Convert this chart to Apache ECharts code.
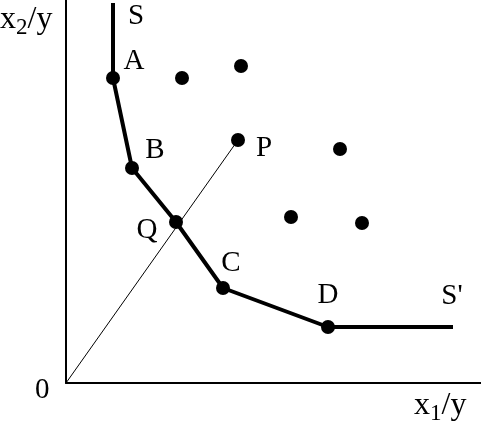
<!DOCTYPE html>
<html>
<head>
<meta charset="utf-8">
<script src="https://cdn.jsdelivr.net/npm/echarts@6/dist/echarts.min.js"></script>
<style>
  html, body { margin: 0; padding: 0; background: #fff; }
  #chart { width: 481px; height: 433px; }
</style>
</head>
<body>
<div id="chart"></div>
<script>
// frontier S - A - B - Q - C - D - S'
var frontierNames = ['S', 'A', 'B', 'Q', 'C', 'D', "S'"];
var frontierX = [47, 47, 66, 110, 157, 262, 387];
var frontierY = [380, 305, 215, 161, 95, 56, 56];
// inefficient unit P and ray from origin
var rayX = [0, 172];
var rayY = [0, 243];
// other observed units
var otherX = [116, 175, 274, 225, 296];
var otherY = [305, 317, 234, 166, 160];

var font = 'Liberation Serif';
// label offsets [dx, dy] for each named point
var labelOffset = {
  'S': [23, 13], 'A': [21, -17], 'B': [23, -18], 'Q': [-29, 8],
  'C': [8, -25], 'D': [0, -32], "S'": [-1, -31], 'P': [26, 8]
};

var frontier = frontierX.map(function (x, i) { return [x, frontierY[i]]; });
var ray = rayX.map(function (x, i) { return [x, rayY[i]]; });
var others = otherX.map(function (x, i) { return [x, otherY[i]]; });

function dotted(names, pts, showDot) {
  return pts.map(function (p, i) {
    var n = names[i];
    var o = labelOffset[n] || [0, 0];
    return {
      value: p,
      symbolSize: showDot[i] ? 14 : 0,
      label: { show: true, formatter: n, offset: o, position: 'inside',
        fontFamily: font, fontSize: 29, color: '#000' }
    };
  });
}

var myChart = echarts.init(document.getElementById('chart'));
var option = {
  animation: false,
  grid: { left: 66, top: 0, right: 0, bottom: 50 },
  xAxis: {
    type: 'value', min: 0, max: 415,
    axisLine: { show: true, lineStyle: { color: '#000', width: 2 } },
    axisTick: { show: false }, axisLabel: { show: false }, splitLine: { show: false }
  },
  yAxis: {
    type: 'value', min: 0, max: 383,
    axisLine: { show: true, lineStyle: { color: '#000', width: 2 } },
    axisTick: { show: false }, axisLabel: { show: false }, splitLine: { show: false }
  },
  series: [
    {
      type: 'line', data: ray, symbol: 'none', z: 1,
      lineStyle: { color: '#000', width: 1 }
    },
    {
      type: 'line', z: 3,
      data: dotted(frontierNames, frontier, [false, true, true, true, true, true, false]),
      symbol: 'circle', itemStyle: { color: '#000' },
      lineStyle: { color: '#000', width: 4 }
    },
    {
      type: 'scatter', z: 4,
      data: dotted(['P'], [ray[1]], [true]),
      symbol: 'circle', itemStyle: { color: '#000', opacity: 1 }
    },
    {
      type: 'scatter', z: 4, data: others, symbol: 'circle', symbolSize: 14,
      itemStyle: { color: '#000', opacity: 1 }
    }
  ],
  graphic: [
    { type: 'text', left: 0, top: 4, style: { text: '{a|x}{s|2}{a|/y}',
      rich: { a: { fontFamily: font, fontSize: 32, color: '#000' },
              s: { fontFamily: font, fontSize: 23, color: '#000', padding: [16, 0, 0, 0] } } } },
    { type: 'text', left: 414, top: 390, style: { text: '{a|x}{s|1}{a|/y}',
      rich: { a: { fontFamily: font, fontSize: 32, color: '#000' },
              s: { fontFamily: font, fontSize: 23, color: '#000', padding: [16, 0, 0, 0] } } } },
    { type: 'text', left: 35, top: 376, style: { text: '0', fontFamily: font, fontSize: 29, fill: '#000' } }
  ]
};
myChart.setOption(option);
</script>
</body>
</html>
